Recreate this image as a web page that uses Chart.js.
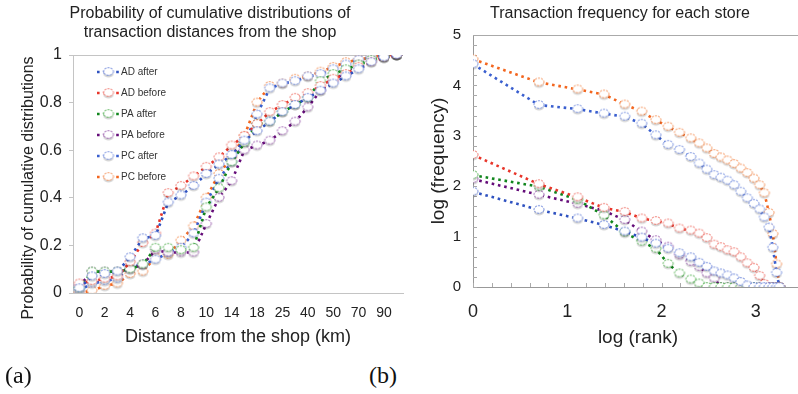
<!DOCTYPE html>
<html>
<head>
<meta charset="utf-8">
<script src="https://cdn.jsdelivr.net/npm/chart.js@4.4.1/dist/chart.umd.min.js"></script>
<style>
  body { margin: 0; width: 798px; height: 394px; overflow: hidden; background: #fff; position: relative;
         font-family: "Liberation Sans", Arial, Helvetica, sans-serif; color: #222; }
  canvas { position: absolute; top: 0; }
  #left { left: 0; }
  #right { left: 400px; }
  .title { position: absolute; text-align: center; font-size: 16px; }
  .ytitle { position: absolute; font-size: 16px; white-space: nowrap; transform: translate(-50%, -50%) rotate(-90deg); }
  .tag { position: absolute; top: 362px; font: 24px "Liberation Serif", "Times New Roman", serif; color: #111; }
</style>
</head>
<body>
<canvas id="left" width="420" height="355"></canvas>
<canvas id="right" width="440" height="357"></canvas>
<div class="title" style="left:0; width:420px; top:3px; line-height:19px">Probability of cumulative distributions of<br>transaction distances from the shop</div>
<div class="title" style="left:420px; width:400px; top:4px; line-height:18px">Transaction frequency for each store</div>
<div class="ytitle" style="left:28px; top:188px">Probability of cumulative distributions</div>
<div class="tag" style="left:5px">(a)</div>
<div class="tag" style="left:369px">(b)</div>
<script>
// ---- chart (a): cumulative distribution of distances ----
const distLabels = ["0", "1", "2", "3", "4", "5", "6", "7", "8", "9", "10", "12", "14", "16",
  "18", "20", "25", "30", "40", "45", "50", "60", "70", "80", "90", "100"];

const adAfter  = [0.02, 0.07, 0.08, 0.09, 0.15, 0.23, 0.24, 0.38, 0.41, 0.45, 0.50, 0.54, 0.58, 0.64, 0.68, 0.72, 0.76, 0.79, 0.82, 0.85, 0.88, 0.91, 0.94, 0.97, 0.99, 1.0];
const adBefore = [0.04, 0.05, 0.06, 0.07, 0.13, 0.21, 0.25, 0.42, 0.45, 0.49, 0.53, 0.57, 0.62, 0.66, 0.71, 0.76, 0.79, 0.82, 0.84, 0.87, 0.90, 0.92, 0.95, 0.97, 0.99, 1.0];
const paAfter  = [0.02, 0.09, 0.09, 0.09, 0.10, 0.12, 0.19, 0.19, 0.18, 0.19, 0.36, 0.44, 0.55, 0.63, 0.71, 0.72, 0.76, 0.79, 0.82, 0.89, 0.92, 0.94, 0.96, 0.98, 0.99, 1.0];
const paBefore = [0.03, 0.09, 0.09, 0.09, 0.10, 0.12, 0.18, 0.17, 0.17, 0.17, 0.29, 0.40, 0.47, 0.60, 0.62, 0.64, 0.68, 0.72, 0.78, 0.85, 0.89, 0.93, 0.96, 0.98, 0.99, 1.0];
const pcAfter  = [0.01, 0.04, 0.05, 0.06, 0.11, 0.12, 0.14, 0.17, 0.19, 0.25, 0.38, 0.48, 0.55, 0.63, 0.75, 0.86, 0.88, 0.89, 0.91, 0.92, 0.94, 0.96, 0.98, 0.99, 1.0, 1.0];
const pcBefore = [0.00, 0.01, 0.03, 0.04, 0.08, 0.09, 0.15, 0.16, 0.22, 0.28, 0.40, 0.50, 0.57, 0.66, 0.80, 0.87, 0.88, 0.90, 0.91, 0.93, 0.95, 0.97, 0.98, 0.99, 1.0, 1.0];

// ---- chart (b): rank / frequency (log10) ----
const logRank = [0, 0.70, 1.11, 1.39, 1.61, 1.79, 1.94, 2.07, 2.19, 2.31, 2.40, 2.48, 2.56,
  2.63, 2.70, 2.77, 2.84, 2.91, 2.98, 3.04, 3.09, 3.14, 3.18, 3.22, 3.25];

const fAdAfter  = [1.89, 1.53, 1.36, 1.23, 1.10, 0.98, 0.86, 0.76, 0.67, 0.59, 0.48, 0.40, 0.31, 0.27, 0.23, 0.17, 0.10, 0.03, 0, 0, 0, 0, 0, 0, 0];
const fAdBefore = [2.62, 2.04, 1.78, 1.57, 1.49, 1.36, 1.31, 1.26, 1.16, 1.12, 1.06, 0.97, 0.84, 0.79, 0.73, 0.69, 0.59, 0.47, 0.38, 0.22, 0.06, 0, 0, 0, 0];
const fPaAfter  = [2.22, 1.99, 1.73, 1.42, 1.08, 0.90, 0.76, 0.46, 0.27, 0.15, 0.07, 0, 0, 0, 0, 0, 0, 0, 0, 0, 0, 0, 0, 0, 0];
const fPaBefore = [2.14, 1.83, 1.65, 1.51, 1.33, 1.10, 0.93, 0.80, 0.63, 0.50, 0.40, 0.27, 0.17, 0, 0, 0, 0, 0, 0, 0, 0, 0, 0, 0, 0];
const fPcAfter  = [4.42, 3.61, 3.53, 3.44, 3.38, 3.24, 3.01, 2.82, 2.72, 2.58, 2.45, 2.33, 2.22, 2.17, 2.11, 2.02, 1.89, 1.76, 1.65, 1.54, 1.38, 1.18, 0.78, 0.28, 0];
const fPcBefore = [4.52, 4.06, 3.92, 3.82, 3.62, 3.48, 3.31, 3.18, 3.06, 2.95, 2.85, 2.75, 2.64, 2.57, 2.51, 2.44, 2.35, 2.26, 2.15, 2.02, 1.86, 1.47, 1.05, 0.45, 0];

const seriesNames = ["AD after", "AD before", "PA after", "PA before", "PC after", "PC before"];
const lineColors = ["#2f52c0", "#e8352a", "#11861d", "#650c79", "#3a5fcf", "#f3661f"];
const ringColors = ["#5c78d6", "#ee665c", "#48ab46", "#9350a8", "#6a86dc", "#f4894c"];

Chart.defaults.font.family = '"Liberation Sans", Arial, Helvetica, sans-serif';
Chart.defaults.color = "#222";

// open circle with a soft grey shadow under it, like the spreadsheet markers
function marker(color) {
  const c = document.createElement("canvas");
  c.width = 14;
  c.height = 16;
  const g = c.getContext("2d");
  g.beginPath();
  g.ellipse(7, 10, 5, 3.6, 0, 0, Math.PI * 2);
  g.fillStyle = "rgba(0,0,0,0.16)";
  g.fill();
  g.beginPath();
  g.ellipse(7, 7.5, 5, 3.8, 0, 0, Math.PI * 2);
  g.fillStyle = "#fff";
  g.fill();
  g.setLineDash([2.2, 1]);
  g.strokeStyle = color;
  g.lineWidth = 0.9;
  g.stroke();
  return c;
}
const markers = ringColors.map(marker);

function makeSet(i, data) {
  return {
    label: seriesNames[i],
    data: data,
    borderColor: lineColors[i],
    backgroundColor: lineColors[i],
    borderWidth: 2.6,
    borderDash: [2.6, 3.8],
    pointStyle: markers[i],
    pointRadius: 5,
    tension: 0,
    fill: false
  };
}

// legend drawn inside the plot, items laid out in a grid
const boxLegend = {
  id: "boxLegend",
  afterDatasetsDraw(chart, args, opts) {
    const ctx = chart.ctx;
    ctx.save();
    ctx.font = opts.size + 'px "Liberation Sans", Arial, sans-serif';
    ctx.textBaseline = "middle";
    chart.data.datasets.forEach((ds, i) => {
      const x = opts.x + (i % opts.cols) * opts.colGap;
      const y = opts.y + Math.floor(i / opts.cols) * opts.rowGap;
      ctx.strokeStyle = ds.borderColor;
      ctx.lineWidth = ds.borderWidth;
      ctx.setLineDash(ds.borderDash);
      ctx.beginPath();
      ctx.moveTo(x, y);
      ctx.lineTo(x + opts.len, y);
      ctx.stroke();
      ctx.setLineDash([]);
      const img = ds.pointStyle;
      ctx.drawImage(img, x + opts.len / 2 - img.width / 2, y - img.height / 2);
      ctx.fillStyle = "#333";
      ctx.fillText(ds.label, x + opts.len + 1, y);
    });
    ctx.restore();
  }
};

// top border of the plot box, plus short inward ticks when asked
const frame = {
  id: "frame",
  beforeDatasetsDraw(chart, args, opts) {
    const { ctx, chartArea: a, scales } = chart;
    ctx.save();
    ctx.strokeStyle = opts.color;
    ctx.lineWidth = 1;
    ctx.beginPath();
    ctx.moveTo(a.left, Math.round(a.top) + 0.5);
    ctx.lineTo(a.right, Math.round(a.top) + 0.5);
    if (opts.inner) {
      scales.x.ticks.forEach((t) => {
        const px = Math.round(scales.x.getPixelForValue(t.value)) + 0.5;
        ctx.moveTo(px, a.bottom);
        ctx.lineTo(px, a.bottom - 4);
      });
      scales.y.ticks.forEach((t) => {
        const py = Math.round(scales.y.getPixelForValue(t.value)) + 0.5;
        ctx.moveTo(a.left, py);
        ctx.lineTo(a.left + 4, py);
      });
    }
    ctx.stroke();
    ctx.restore();
  }
};

const isWhole = (v) => Math.abs(v - Math.round(v)) < 1e-6;

new Chart(document.getElementById("left"), {
  type: "line",
  data: {
    labels: distLabels,
    datasets: [
      makeSet(0, adAfter), makeSet(1, adBefore), makeSet(2, paAfter),
      makeSet(3, paBefore), makeSet(4, pcAfter), makeSet(5, pcBefore)
    ]
  },
  options: {
    responsive: false,
    animation: false,
    layout: { padding: { left: 0, right: 17, top: 55, bottom: 0 } },
    scales: {
      x: {
        offset: true,
        grid: { display: false, drawTicks: false },
        border: { display: true, color: "#c4c4c4" },
        ticks: {
          autoSkip: false, maxRotation: 0, padding: 12,
          font: { size: 14 },
          callback: (v, i) => (i % 2 === 0 ? distLabels[i] : "")
        },
        title: { display: true, text: "Distance from the shop (km)", font: { size: 18 }, padding: { top: 0, bottom: 7 } },
        afterFit: (s) => { s.height = 62; }
      },
      y: {
        min: 0, max: 1,
        grid: { display: true, drawOnChartArea: false, drawTicks: true, tickLength: 4, color: "#c4c4c4" },
        border: { display: true, color: "#c4c4c4" },
        ticks: { stepSize: 0.2, padding: 7, font: { size: 16 }, callback: (v) => String(+v.toFixed(1)) },
        afterFit: (s) => { s.width = 73; }
      }
    },
    plugins: {
      legend: { display: false },
      tooltip: { enabled: false },
      boxLegend: { x: 97, y: 72, cols: 1, colGap: 0, rowGap: 21, len: 23, size: 10 },
      frame: { color: "#c4c4c4", inner: false }
    }
  },
  plugins: [boxLegend, frame]
});

const toPoints = (ys) => ys.map((y, i) => ({ x: logRank[i], y: y }));

new Chart(document.getElementById("right"), {
  type: "line",
  data: {
    datasets: [
      makeSet(0, toPoints(fAdAfter)), makeSet(1, toPoints(fAdBefore)), makeSet(2, toPoints(fPaAfter)),
      makeSet(3, toPoints(fPaBefore)), makeSet(4, toPoints(fPcAfter)), makeSet(5, toPoints(fPcBefore))
    ]
  },
  options: {
    responsive: false,
    animation: false,
    layout: { padding: { left: 0, right: 37, top: 35, bottom: 0 } },
    scales: {
      x: {
        type: "linear", min: 0, max: 3.5,
        grid: { display: false, drawTicks: false },
        border: { display: true, color: "#999" },
        ticks: {
          stepSize: 0.2, autoSkip: false, maxRotation: 0, padding: 14,
          font: { size: 18 },
          callback: (v) => (isWhole(v) ? String(Math.round(v)) : "")
        },
        title: { display: true, text: "log (rank)", font: { size: 19 }, padding: { top: 0, bottom: 8 } },
        afterFit: (s) => { s.height = 70; }
      },
      y: {
        min: 0, max: 5,
        grid: { display: false, drawTicks: false },
        border: { display: true, color: "#999" },
        ticks: {
          stepSize: 0.2, autoSkip: false, padding: 12,
          font: { size: 15 },
          callback: (v) => (isWhole(v) ? String(Math.round(v)) : "")
        },
        title: { display: true, text: "log (frequency)", font: { size: 19 }, padding: { top: 27, bottom: 0 } },
        afterFit: (s) => { s.width = 73; }
      }
    },
    plugins: {
      legend: { display: false },
      tooltip: { enabled: false },
      boxLegend: { x: 233, y: 53, cols: 2, colGap: 89, len: 22, size: 12 },
      frame: { color: "#aaa", inner: true }
    }
  },
  plugins: [boxLegend, frame]
});
</script>
</body>
</html>
